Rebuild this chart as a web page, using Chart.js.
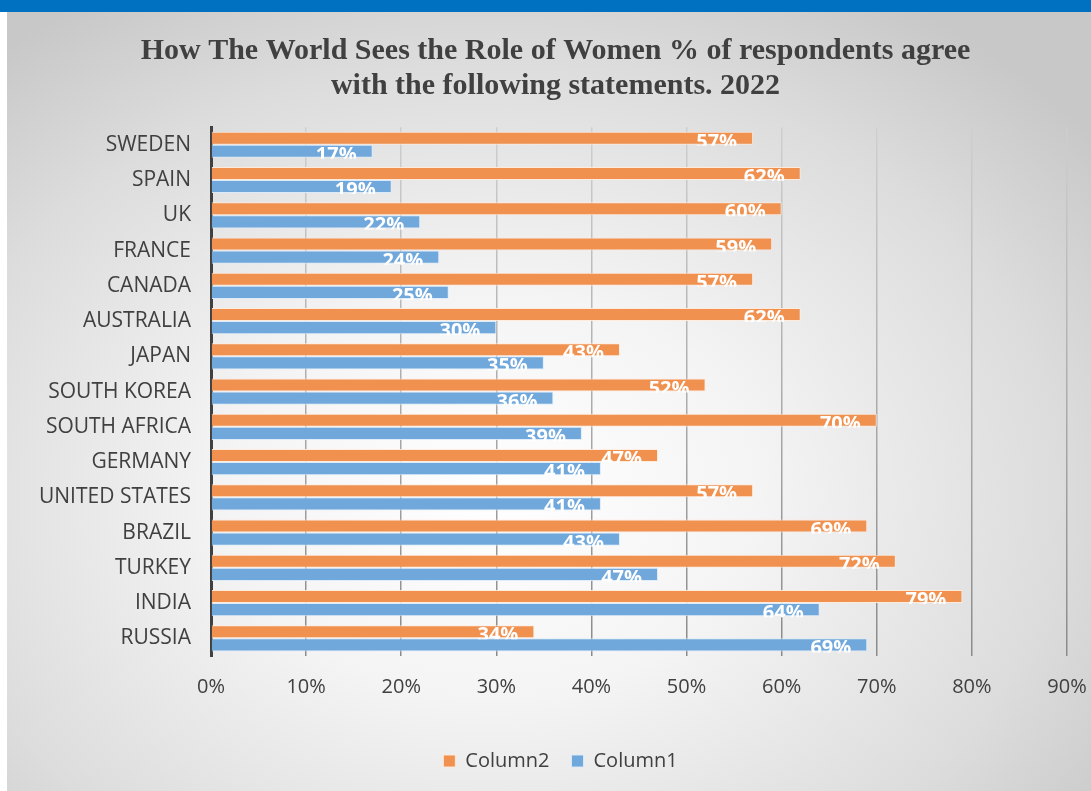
<!DOCTYPE html>
<html>
<head>
<meta charset="utf-8">
<script src="https://cdn.jsdelivr.net/npm/chart.js@4"></script>
<style>
  html, body { margin: 0; padding: 0; background: #fff; }
  #topbar { position: absolute; left: 0; top: 0; width: 1091px; height: 12px; background: #0070c0; }
  #panel {
    position: absolute; left: 7px; top: 12px; width: 1084px; height: 779px;
    background: radial-gradient(ellipse 70% 75% at 45% 62%, #ffffff 0%, #f4f4f4 35%, #dcdcdc 75%, #c8c8c8 100%);
  }
  #wrap { position: absolute; left: 0; top: 0; width: 1091px; height: 791px; }
</style>
</head>
<body>
<div id="topbar"></div>
<div id="panel"></div>
<div id="wrap"><canvas id="chart"></canvas></div>
<script>
  const countries = ['SWEDEN', 'SPAIN', 'UK', 'FRANCE', 'CANADA', 'AUSTRALIA', 'JAPAN', 'SOUTH KOREA',
    'SOUTH AFRICA', 'GERMANY', 'UNITED STATES', 'BRAZIL', 'TURKEY', 'INDIA', 'RUSSIA'];
  const column2 = [57, 62, 60, 59, 57, 62, 43, 52, 70, 47, 57, 69, 72, 79, 34];
  const column1 = [17, 19, 22, 24, 25, 30, 35, 36, 39, 41, 41, 43, 47, 64, 69];
  const titleLines = ['How The World Sees the Role of Women % of respondents agree',
    'with the following statements. 2022'];

  // white labels at the inner end of each bar, clipped to the bar
  const barLabels = {
    id: 'barLabels',
    afterDatasetsDraw(chart) {
      const ctx = chart.ctx;
      chart.data.datasets.forEach((ds, i) => {
        chart.getDatasetMeta(i).data.forEach((bar, j) => {
          const top = bar.y - bar.height / 2;
          ctx.save();
          ctx.beginPath();
          ctx.rect(bar.base, top, bar.x - bar.base, bar.height + 1);
          ctx.clip();
          ctx.font = 'bold 20px "Open Sans"';
          ctx.fillStyle = '#ffffff';
          ctx.textAlign = 'right';
          ctx.textBaseline = 'alphabetic';
          ctx.fillText(ds.data[j] + '%', bar.x - 16, top + 16);
          ctx.restore();
        });
      });
    }
  };

  // title and legend sit a little right of centre in the original
  function shiftBox(chart, box, dx) {
    if (!box || box._shifted) return;
    const draw = box.draw;
    box.draw = function() {
      chart.ctx.save();
      chart.ctx.translate(dx, 0);
      draw.apply(this, arguments);
      chart.ctx.restore();
    };
    box._shifted = true;
  }
  const boxShift = {
    id: 'boxShift',
    beforeDraw(chart) {
      shiftBox(chart, chart.legend, 27);
      shiftBox(chart, chart.titleBlock, 22);
    }
  };

  function gridColor(c) {
    const area = c.chart.chartArea;
    if (!area) return '#aaaaaa';
    const g = c.chart.ctx.createLinearGradient(0, area.top, 0, area.bottom);
    g.addColorStop(0, '#cfcfcf');
    g.addColorStop(1, '#8a8a8a');
    return g;
  }

  new Chart(document.getElementById('chart'), {
    type: 'bar',
    data: {
      labels: countries,
      datasets: [
        { label: 'Column2', data: column2, backgroundColor: '#f09150', borderColor: 'rgba(255,235,220,0.9)', borderWidth: 1 },
        { label: 'Column1', data: column1, backgroundColor: '#71a8dc', borderColor: 'rgba(220,235,250,0.9)', borderWidth: 1 }
      ]
    },
    options: {
      indexAxis: 'y',
      responsive: true,
      maintainAspectRatio: false,
      animation: false,
      categoryPercentage: 0.74,
      barPercentage: 1,
      layout: { padding: { left: 0, right: 24, top: 0, bottom: 10 } },
      scales: {
        x: {
          min: 0, max: 90,
          ticks: { stepSize: 10, callback: v => v + '%', color: '#404040', padding: 19,
            font: { family: '"Open Sans"', size: 20 } },
          grid: { color: gridColor, lineWidth: 1.5, drawTicks: false },
          border: { display: false },
          afterFit(scale) { scale.height = 73; scale.paddingLeft = 0; scale.paddingRight = 0; }
        },
        y: {
          ticks: { color: '#404040', padding: 20, font: { family: '"Open Sans"', size: 21 } },
          grid: { display: false, drawTicks: false },
          border: { display: true, color: '#404040', width: 3 },
          afterFit(scale) { scale.width = 211; }
        }
      },
      plugins: {
        title: {
          display: true, text: titleLines, color: '#404040',
          font: { family: '"Liberation Serif"', size: 30, weight: 'bold', lineHeight: 1.17 },
          padding: { top: 34, bottom: 23 }
        },
        legend: {
          position: 'bottom',
          labels: { color: '#404040', boxWidth: 12, boxHeight: 12, padding: 22,
            font: { family: '"Open Sans"', size: 20 } }
        },
        tooltip: { enabled: false }
      }
    },
    plugins: [barLabels, boxShift]
  });
</script>
</body>
</html>
